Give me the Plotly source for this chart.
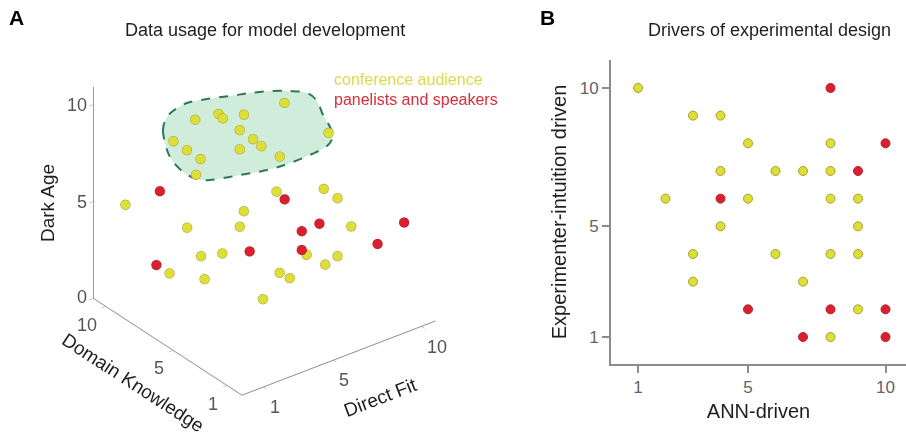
import plotly.graph_objects as go

# ---------------- Panel A: 3D survey ratings ----------------
# conference audience (yellow)
aud_direct = [8.85, 4.74, 5.89, 5.80, 6.76, 5.76, 2.78, 5.74, 5.65, 4.71, 2.77, 2.77, 5.74, 8.79, 1.75,
              0.98, 5.83, 7.67, 8.18, 4.65, 2.78, 4.72, 8.72, 3.31, 3.69, 7.16, 8.19, 2.30, 3.24, 5.74,
              5.81, 7.29, 4.76]
aud_domain = [8.56, 9.81, 9.58, 9.15, 8.83, 7.84, 8.87, 6.83, 6.10, 6.47, 7.85, 6.85, 4.85, 5.21, 5.85,
              10.08, 5.21, 4.11, 3.75, 6.09, 7.85, 6.48, 3.44, 7.51, 6.43, 4.71, 3.77, 8.53, 7.16, 4.86,
              4.20, 3.50, 4.82]
aud_dark = [8, 8, 8, 8, 8, 8, 8, 8, 8, 8, 8, 8, 8, 8, 8,
            4.8, 6, 6, 5.5, 5, 4, 4, 4, 2.5, 3, 2.5, 2.5, 1.5, 1.5, 2,
            2, 2.5, 1]
# panelists and speakers (red)
pan_direct = [2.21, 6.76, 7.73, 7.22, 9.92, 9.23, 4.78, 6.72, 1.76]
pan_domain = [9.13, 5.82, 4.51, 5.15, 1.09, 2.16, 5.83, 4.50, 8.80]
pan_dark = [5.5, 5, 4, 3.5, 4.85, 3.5, 3, 3, 2]

# ---------------- Panel B: 2D ratings ----------------
b_aud_ann = [1, 3, 4, 5, 8, 4, 6, 7, 8, 2, 5, 8, 9, 4, 9, 3, 6, 8, 9, 3, 7, 9, 8]
b_aud_exp = [10, 9, 9, 8, 8, 7, 7, 7, 7, 6, 6, 6, 6, 5, 5, 4, 4, 4, 4, 3, 3, 2, 1]
b_pan_ann = [8, 10, 9, 4, 5, 8, 10, 7, 10]
b_pan_exp = [10, 8, 7, 6, 2, 2, 2, 1, 1]

tick_vals_a = [1, 5, 10]
tick_vals_z = [0, 5, 10]
tick_vals_b = [1, 5, 10]
tick_text_a = ["1", "5", "10"]
tick_text_z = ["0", "5", "10"]

# label placement for the 3D panel (pixel positions on the 906x435 canvas)
Z_TICK_POS = [(89, 297), (89, 202), (89, 105)]
DOMAIN_TICK_POS = [(213, 404), (159, 368), (87, 325)]
DIRECT_TICK_POS = [(275, 407), (344, 380), (437, 347)]

# decorative cluster outline (pixel positions on the 906x435 canvas)
BLOB_OUTLINE_PX = [(163, 131), (166, 119), (173, 111), (187, 103), (207, 99), (230, 96), (250, 93),
                   (270, 91), (290, 91), (307, 93), (317, 101), (323, 115), (330, 127), (333, 136),
                   (327, 146), (312, 154), (290, 163), (267, 170), (240, 175), (210, 180), (197, 179),
                   (186, 174), (174, 163), (167, 150)]

W, H = 906, 435
FONT = "Liberation Sans, Arial, Helvetica, sans-serif"
YEL = "rgb(222,222,58)"
YEL_EDGE = "rgb(165,162,40)"
RED = "rgb(214,34,48)"
RED_EDGE = "rgb(190,30,40)"
AX = "rgb(140,140,140)"
TICKC = "rgb(85,85,85)"
TITLEC = "rgb(30,30,30)"


def px2paper(x, y):
    return x / W, 1 - y / H


def smooth_closed_path(pts):
    pp = [px2paper(x, y) for x, y in pts]
    n = len(pp)
    d = "M %.5f,%.5f " % pp[0]
    for i in range(n):
        p0 = pp[(i - 1) % n]
        p1 = pp[i]
        p2 = pp[(i + 1) % n]
        p3 = pp[(i + 2) % n]
        c1 = (p1[0] + (p2[0] - p0[0]) / 6, p1[1] + (p2[1] - p0[1]) / 6)
        c2 = (p2[0] - (p3[0] - p1[0]) / 6, p2[1] - (p3[1] - p1[1]) / 6)
        d += "C %.5f,%.5f %.5f,%.5f %.5f,%.5f " % (c1[0], c1[1], c2[0], c2[1], p2[0], p2[1])
    return d + "Z"


fig = go.Figure()

fig.add_trace(go.Scatter3d(
    x=aud_direct, y=aud_domain, z=aud_dark, mode="markers", name="conference audience",
    marker=dict(size=5.7, color=YEL, line=dict(color=YEL_EDGE, width=1.3), opacity=1),
    hoverinfo="skip"))
fig.add_trace(go.Scatter3d(
    x=pan_direct, y=pan_domain, z=pan_dark, mode="markers", name="panelists and speakers",
    marker=dict(size=5.7, color=RED, line=dict(color=RED_EDGE, width=0.8), opacity=1),
    hoverinfo="skip"))

fig.add_trace(go.Scatter(
    x=b_aud_ann, y=b_aud_exp, mode="markers", name="conference audience",
    marker=dict(size=9, color=YEL, line=dict(color=YEL_EDGE, width=1)),
    hoverinfo="skip", cliponaxis=False))
fig.add_trace(go.Scatter(
    x=b_pan_ann, y=b_pan_exp, mode="markers", name="panelists and speakers",
    marker=dict(size=9, color=RED, line=dict(color=RED_EDGE, width=1)),
    hoverinfo="skip", cliponaxis=False))

L = 2.0
A_R = 1.245
ax3 = dict(showbackground=False, showgrid=False, zeroline=False, showline=True,
           linecolor=AX, linewidth=2, ticks="outside", tickcolor=AX, ticklen=5,
           showticklabels=False, showspikes=False, title_text="")

fig.update_layout(
    width=W, height=H, margin=dict(l=0, r=0, t=0, b=0),
    paper_bgcolor="white", plot_bgcolor="white", showlegend=False, hovermode=False,
    font=dict(family=FONT),
    scene=dict(
        domain=dict(x=[0, 0.5839], y=[0.081, 0.981]),
        aspectmode="manual", aspectratio=dict(x=A_R, y=A_R, z=A_R),
        camera=dict(eye=dict(x=-0.527 * L, y=-0.687 * L, z=0.5 * L),
                    up=dict(x=0, y=0, z=1), center=dict(x=0, y=0, z=0),
                    projection=dict(type="orthographic")),
        xaxis=dict(ax3, range=[-0.2, 10.8], tickvals=tick_vals_a),
        yaxis=dict(ax3, range=[-0.1, 10.9], tickvals=tick_vals_a),
        zaxis=dict(ax3, range=[0, 10.9], tickvals=tick_vals_z),
        bgcolor="rgba(0,0,0,0)",
    ),
    xaxis=dict(domain=[611 / W, 1], range=[0.018, 10.745], showline=True, linecolor=AX, linewidth=2,
               ticks="outside", ticklen=7, tickwidth=2, tickcolor=AX, tickvals=tick_vals_b,
               tickfont=dict(size=17, color="rgb(100,100,100)"), showgrid=False, zeroline=False,
               title=dict(text="ANN-driven", font=dict(size=20, color=TITLEC), standoff=8)),
    yaxis=dict(domain=[1 - 364 / H, 1 - 60 / H], range=[0.025, 11.01], showline=True, linecolor=AX,
               linewidth=2, ticks="outside", ticklen=7, tickwidth=2, tickcolor=AX, tickvals=tick_vals_b,
               tickfont=dict(size=17, color="rgb(100,100,100)"), showgrid=False, zeroline=False,
               title=dict(text="Experimenter-intuition driven", font=dict(size=20, color=TITLEC),
                          standoff=8)),
)

fig.add_shape(type="path", xref="paper", yref="paper", path=smooth_closed_path(BLOB_OUTLINE_PX),
              fillcolor="rgba(190,228,205,0.72)", line=dict(color="rgb(45,120,85)", width=2, dash="dash"),
              layer="below")


def ann(text, x, y, size, color, xanchor="center", bold=False, angle=0):
    px, py = px2paper(x, y)
    fig.add_annotation(text=("<b>%s</b>" % text) if bold else text, x=px, y=py, xref="paper", yref="paper",
                       xanchor=xanchor, yanchor="middle", showarrow=False, textangle=angle,
                       font=dict(size=size, color=color, family=FONT))


ann("A", 16, 18, 21, "black", bold=True)
ann("B", 547, 18, 21, "black", bold=True)
ann("Data usage for model development", 264.5, 30, 18, TITLEC)
ann("Drivers of experimental design", 769, 30, 18, TITLEC)
ann("conference audience", 332, 79, 16, "rgb(215,220,75)", xanchor="left")
ann("panelists and speakers", 332, 100, 16, "rgb(215,45,60)", xanchor="left")

# 3D panel axis labels
for t, (x, y) in zip(tick_text_z, Z_TICK_POS):
    ann(t, x, y, 18, TICKC, xanchor="right")
for t, (x, y) in zip(tick_text_a, DOMAIN_TICK_POS):
    ann(t, x, y, 18, TICKC)
for t, (x, y) in zip(tick_text_a, DIRECT_TICK_POS):
    ann(t, x, y, 18, TICKC)
ann("Dark Age", 47, 203, 19, TITLEC, angle=-90)
ann("Domain Knowledge", 133, 382, 19, TITLEC, angle=33)
ann("Direct Fit", 380, 397, 19, TITLEC, angle=-21)

fig.write_html("out.html", config={"displayModeBar": False, "staticPlot": False},
               post_script="document.body.style.margin='0px';document.body.style.overflow='hidden';")
